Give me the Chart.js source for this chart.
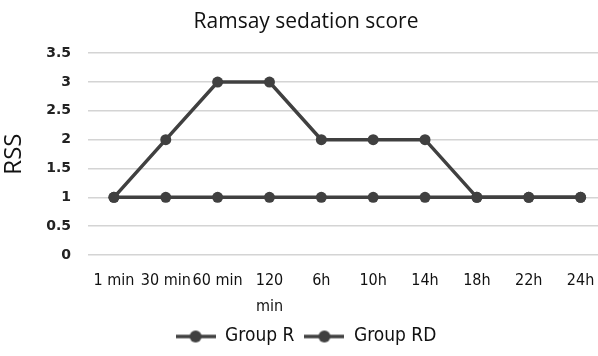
<!DOCTYPE html>
<html>
<head>
<meta charset="utf-8">
<script src="https://cdn.jsdelivr.net/npm/chart.js@4/dist/chart.umd.min.js"></script>
<style>
  html, body { margin: 0; padding: 0; background: #fff; overflow: hidden; }
  #wrap { width: 612px; height: 356px; }
</style>
</head>
<body>
<div id="wrap"><canvas id="chart" width="612" height="356"></canvas></div>
<script>
// categories and series values
const timePoints = ['1 min', '30 min', '60 min', ['120', 'min'], '6h', '10h', '14h', '18h', '22h', '24h']
const groupR = [1, 1, 1, 1, 1, 1, 1, 1, 1, 1]
const groupRD = [1, 2, 3, 3, 2, 2, 2, 1, 1, 1]
const yTicks = [0, 0.5, 1, 1.5, 2, 2.5, 3, 3.5]

const lineColor = '#404040'
const narrow = '"DejaVu Sans Condensed", "Liberation Sans Narrow", "Roboto Condensed", sans-serif'

// legend marker: short line with a dot in the middle
function legendMarker() {
	const c = document.createElement('canvas')
	c.width = 40
	c.height = 14
	const ctx = c.getContext('2d')
	ctx.strokeStyle = lineColor
	ctx.lineWidth = 3.5
	ctx.beginPath()
	ctx.moveTo(0, 7)
	ctx.lineTo(40, 7)
	ctx.stroke()
	ctx.fillStyle = lineColor
	ctx.beginPath()
	ctx.arc(20, 7, 6, 0, Math.PI * 2)
	ctx.fill()
	return c
}
const marker = legendMarker()

function series(label, data) {
	return {
		label: label,
		data: data,
		borderColor: lineColor,
		backgroundColor: lineColor,
		borderWidth: 3.5,
		pointRadius: 5.5,
		pointStyle: 'circle',
		pointBackgroundColor: lineColor,
		pointBorderWidth: 0,
		tension: 0
	}
}

new Chart(document.getElementById('chart'), {
	type: 'line',
	data: {
		labels: timePoints,
		datasets: [series('Group R', groupR), series('Group RD', groupRD)]
	},
	options: {
		responsive: false,
		animation: false,
		layout: { padding: { top: 0, right: 0, bottom: 0, left: 0 } },
		plugins: {
			title: {
				display: true,
				text: 'Ramsay sedation score',
				color: '#111',
				font: { family: '"Open Sans", sans-serif', size: 21, weight: 'normal' },
				padding: { top: 9, bottom: 19 }
			},
			legend: {
				position: 'bottom',
				labels: {
					usePointStyle: true,
					pointStyleWidth: 40,
					color: '#111',
					font: { family: narrow, size: 19 },
					padding: 10,
					generateLabels: function(chart) {
						return chart.data.datasets.map(function(ds, i) {
							return {
								text: ds.label,
								pointStyle: marker,
								fillStyle: lineColor,
								strokeStyle: lineColor,
								lineWidth: 0,
								datasetIndex: i,
								fontColor: '#111'
							}
						})
					}
				}
			},
			tooltip: { enabled: false }
		},
		scales: {
			x: {
				offset: true,
				afterFit: function(axis) { axis.height = 62 },
				grid: { display: false },
				border: { display: false },
				ticks: {
					color: '#111',
					maxRotation: 0,
					autoSkip: false,
					padding: 5,
					font: { family: narrow, size: 16, lineHeight: 1.6 }
				}
			},
			y: {
				min: 0,
				max: 3.5,
				afterBuildTicks: function(axis) {
					axis.ticks = yTicks.map(function(v) { return { value: v } })
				},
				afterFit: function(axis) { axis.width = 88 },
				grid: { color: '#d4d4d4', lineWidth: 1.5, drawTicks: false },
				border: { display: false },
				ticks: {
					color: '#222',
					padding: 17,
					font: { family: '"DejaVu Sans", sans-serif', size: 14, weight: 'bold' },
					callback: function(v) { return String(v) }
				},
				title: {
					display: true,
					text: 'RSS',
					color: '#111',
					font: { family: '"Open Sans", sans-serif', size: 24 },
					padding: { top: 0, bottom: 2 }
				}
			}
		}
	}
})
</script>
</body>
</html>
